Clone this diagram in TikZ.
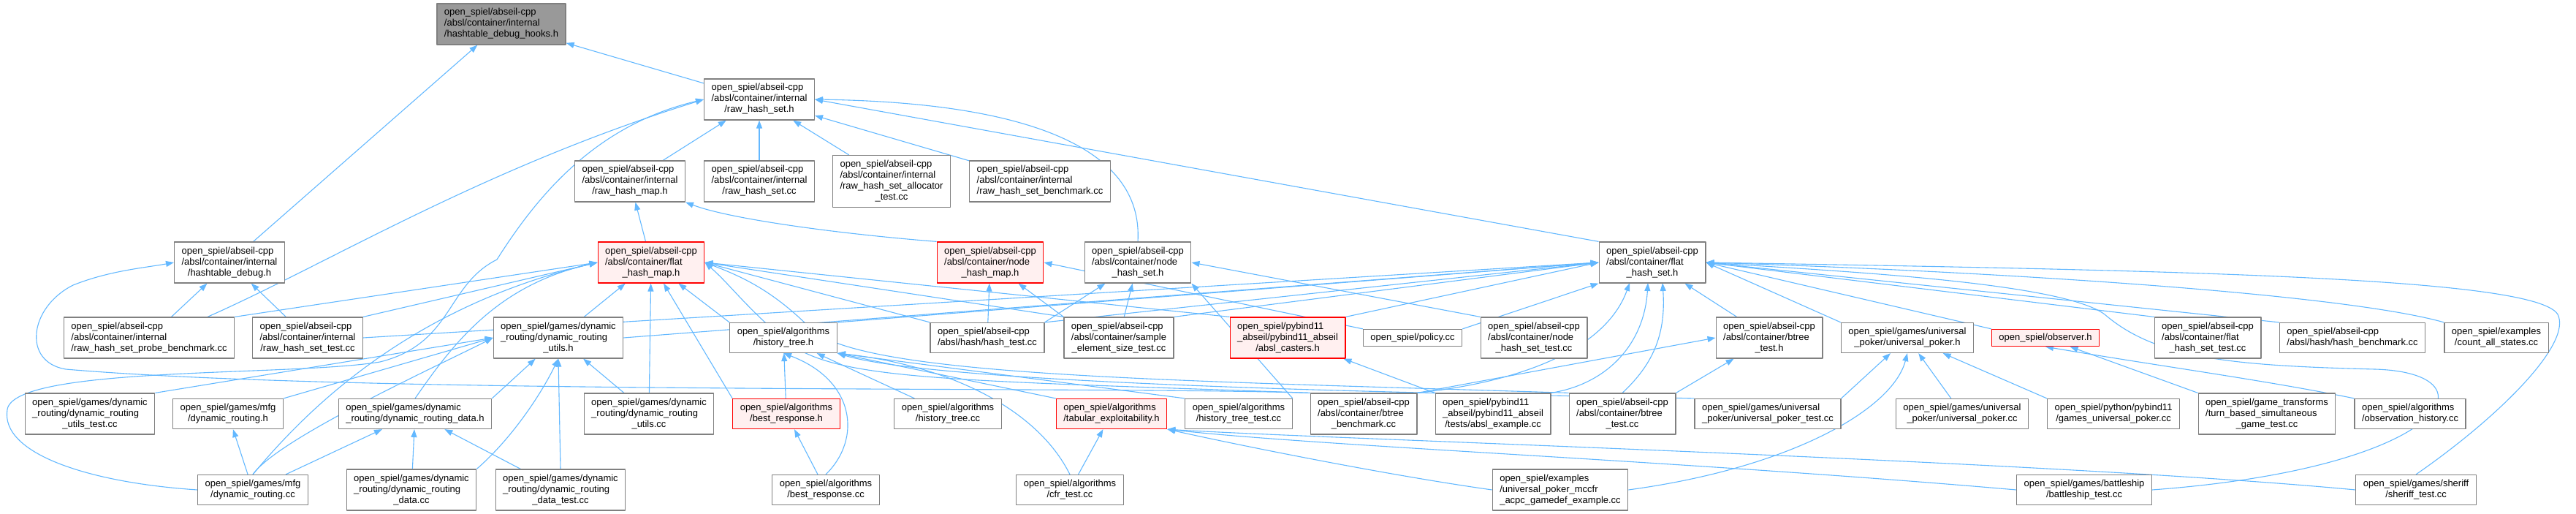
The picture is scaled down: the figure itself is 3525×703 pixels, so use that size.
\documentclass[tikz,border=0pt]{standalone}
\usepackage{fontspec}
\setmainfont{Liberation Sans}
\usetikzlibrary{arrows.meta,backgrounds}

\definecolor{edgeblue}{HTML}{63B8FF}
\definecolor{boxline}{HTML}{808080}
\definecolor{rootfill}{HTML}{999999}
\definecolor{redfill}{HTML}{FFF0F0}

% etichetta doxygen: righe a sinistra, ultima centrata
\newcommand{\flab}[2]{\begin{tabular}{@{}l@{}}#1\\\multicolumn{1}{@{}c@{}}{#2}\end{tabular}}

\begin{document}
\begin{tikzpicture}[x=1pt, y=-1pt, line cap=round, line join=round,
  file/.style={draw=boxline, fill=white, line width=1.2pt, inner xsep=10pt, inner ysep=5.5pt,
    font=\fontsize{13}{15}\selectfont},
  rootfile/.style={file, fill=rootfill},
  redfile/.style={file, draw=red, fill=redfill},
  dep/.style={draw=edgeblue, line width=1.1pt, -{Triangle[length=11pt,width=8pt]}}]

\useasboundingbox (0,0) rectangle (3525,703);
\renewcommand{\arraystretch}{1}

% riga 1
\node[rootfile] (hooks) at (686,33) {\flab{open\_spiel/abseil-cpp\\/absl/container/internal}{/hashtable\_debug\_hooks.h}};

% riga 2
\node[file] (rhsh) at (1039,136) {\flab{open\_spiel/abseil-cpp\\/absl/container/internal}{/raw\_hash\_set.h}};

% riga 3
\node[file] (rhmh) at (862,248) {\flab{open\_spiel/abseil-cpp\\/absl/container/internal}{/raw\_hash\_map.h}};
\node[file] (rhscc) at (1039,248) {\flab{open\_spiel/abseil-cpp\\/absl/container/internal}{/raw\_hash\_set.cc}};
\node[file] (rhsalloc) at (1220,248) {\flab{open\_spiel/abseil-cpp\\/absl/container/internal\\/raw\_hash\_set\_allocator}{\_test.cc}};
\node[file] (rhsbench) at (1423,248) {\flab{open\_spiel/abseil-cpp\\/absl/container/internal}{/raw\_hash\_set\_benchmark.cc}};

% riga 4
\node[file] (hdebug) at (314,359) {\flab{open\_spiel/abseil-cpp\\/absl/container/internal}{/hashtable\_debug.h}};
\node[redfile] (fhmh) at (891,359) {\flab{open\_spiel/abseil-cpp\\/absl/container/flat}{\_hash\_map.h}};
\node[redfile] (nhmh) at (1355,359) {\flab{open\_spiel/abseil-cpp\\/absl/container/node}{\_hash\_map.h}};
\node[file] (nhsh) at (1557,359) {\flab{open\_spiel/abseil-cpp\\/absl/container/node}{\_hash\_set.h}};
\node[file] (fhsh) at (2261,359) {\flab{open\_spiel/abseil-cpp\\/absl/container/flat}{\_hash\_set.h}};

% riga 5
\node[file] (probe) at (204,462) {\flab{open\_spiel/abseil-cpp\\/absl/container/internal}{/raw\_hash\_set\_probe\_benchmark.cc}};
\node[file] (rhstest) at (421,462) {\flab{open\_spiel/abseil-cpp\\/absl/container/internal}{/raw\_hash\_set\_test.cc}};
\node[file] (drutilsh) at (764,462) {\flab{open\_spiel/games/dynamic\\\_routing/dynamic\_routing}{\_utils.h}};
\node[file] (htreeh) at (1072,462) {\flab{open\_spiel/algorithms}{/history\_tree.h}};
\node[file] (hashtest) at (1351,462) {\flab{open\_spiel/abseil-cpp}{/absl/hash/hash\_test.cc}};
\node[file] (samplesize) at (1531,462) {\flab{open\_spiel/abseil-cpp\\/absl/container/sample}{\_element\_size\_test.cc}};
\node[redfile] (casters) at (1762,462) {\flab{open\_spiel/pybind11\\\_abseil/pybind11\_abseil}{/absl\_casters.h}};
\node[file] (policy) at (1933,462) {open\_spiel/policy.cc};
\node[file] (nhstest) at (2099,462) {\flab{open\_spiel/abseil-cpp\\/absl/container/node}{\_hash\_set\_test.cc}};
\node[file] (btreetesth) at (2421,462) {\flab{open\_spiel/abseil-cpp\\/absl/container/btree}{\_test.h}};
\node[file] (uph) at (2610,462) {\flab{open\_spiel/games/universal}{\_poker/universal\_poker.h}};
\node[redfile] (observer) at (2799,462) {open\_spiel/observer.h};
\node[file] (fhstest) at (3021,462) {\flab{open\_spiel/abseil-cpp\\/absl/container/flat}{\_hash\_set\_test.cc}};
\node[file] (hashbench) at (3219,462) {\flab{open\_spiel/abseil-cpp}{/absl/hash/hash\_benchmark.cc}};
\node[file] (countall) at (3416,462) {\flab{open\_spiel/examples}{/count\_all\_states.cc}};

% riga 6
\node[file] (drutilstest) at (123,566) {\flab{open\_spiel/games/dynamic\\\_routing/dynamic\_routing}{\_utils\_test.cc}};
\node[file] (mfgdrh) at (312,566) {\flab{open\_spiel/games/mfg}{/dynamic\_routing.h}};
\node[file] (drdatah) at (568,566) {\flab{open\_spiel/games/dynamic}{\_routing/dynamic\_routing\_data.h}};
\node[file] (drutilscc) at (888,566) {\flab{open\_spiel/games/dynamic\\\_routing/dynamic\_routing}{\_utils.cc}};
\node[redfile] (brh) at (1076,566) {\flab{open\_spiel/algorithms}{/best\_response.h}};
\node[file] (htreecc) at (1297,566) {\flab{open\_spiel/algorithms}{/history\_tree.cc}};
\node[redfile] (tabexp) at (1521,566) {\flab{open\_spiel/algorithms}{/tabular\_exploitability.h}};
\node[file] (htreetest) at (1695,566) {\flab{open\_spiel/algorithms}{/history\_tree\_test.cc}};
\node[file] (btreebench) at (1866,566) {\flab{open\_spiel/abseil-cpp\\/absl/container/btree}{\_benchmark.cc}};
\node[file] (abslex) at (2043,566) {\flab{open\_spiel/pybind11\\\_abseil/pybind11\_abseil}{/tests/absl\_example.cc}};
\node[file] (btreetestcc) at (2220,566) {\flab{open\_spiel/abseil-cpp\\/absl/container/btree}{\_test.cc}};
\node[file] (uptest) at (2419,566) {\flab{open\_spiel/games/universal}{\_poker/universal\_poker\_test.cc}};
\node[file] (upcc) at (2685,566) {\flab{open\_spiel/games/universal}{\_poker/universal\_poker.cc}};
\node[file] (pyup) at (2892,566) {\flab{open\_spiel/python/pybind11}{/games\_universal\_poker.cc}};
\node[file] (tbstest) at (3102,566) {\flab{open\_spiel/game\_transforms\\/turn\_based\_simultaneous}{\_game\_test.cc}};
\node[file] (obshist) at (3298,566) {\flab{open\_spiel/algorithms}{/observation\_history.cc}};

% riga 7
\node[file] (mfgdrcc) at (346,670) {\flab{open\_spiel/games/mfg}{/dynamic\_routing.cc}};
\node[file] (drdatacc) at (563,670) {\flab{open\_spiel/games/dynamic\\\_routing/dynamic\_routing}{\_data.cc}};
\node[file] (drdatatest) at (767,670) {\flab{open\_spiel/games/dynamic\\\_routing/dynamic\_routing}{\_data\_test.cc}};
\node[file] (brcc) at (1130,670) {\flab{open\_spiel/algorithms}{/best\_response.cc}};
\node[file] (cfrtest) at (1464,670) {\flab{open\_spiel/algorithms}{/cfr\_test.cc}};
\node[file] (acpc) at (2135,670) {\flab{open\_spiel/examples\\/universal\_poker\_mccfr}{\_acpc\_gamedef\_example.cc}};
\node[file] (battleship) at (2852,670) {\flab{open\_spiel/games/battleship}{/battleship\_test.cc}};
\node[file] (sheriff) at (3306,670) {\flab{open\_spiel/games/sheriff}{/sheriff\_test.cc}};

\begin{pgfonlayer}{background}
% archi verso hashtable_debug_hooks.h e raw_hash_set.h
\draw[dep] (hdebug) -- (hooks);
\draw[dep] (rhsh) -- (hooks);
\draw[dep] (rhmh) -- (rhsh);
\draw[dep] (rhscc) -- (rhsh);
\draw[dep] (rhsalloc) -- (rhsh);
\draw[dep] (rhsbench) -- (rhsh);
\draw[dep] (fhsh.north west) -- (rhsh.east);
\draw[dep] (nhsh.north) .. controls (1565,200) and (1400,140) .. (rhsh.east);
\draw[dep] ([xshift=80pt]probe.north) .. controls (450,360) and (660,230) .. (rhsh.west);
\draw[dep] (mfgdrcc.west) .. controls (120,660) and (0,620) .. (10,560)
  .. controls (20,500) and (400,515) .. (520,495)
  .. controls (620,470) and (610,390) .. (680,355)
  .. controls (740,260) and (820,170) .. (rhsh.west);
\draw[dep] (fhmh) -- (rhmh);
\draw[dep] (nhmh.north west) .. controls (1150,320) and (1000,300) .. (rhmh.south east);

% archi verso hashtable_debug.h
\draw[dep] (probe) -- (hdebug);
\draw[dep] (rhstest) -- (hdebug);
\draw[dep] (btreebench.north west) .. controls (1500,528) and (500,540) .. (90,505)
  .. controls (30,495) and (40,420) .. (100,390)
  .. controls (150,370) and (200,366) .. (hdebug.west);

% archi verso flat_hash_map.h
\draw[dep] (probe.north east) -- (fhmh.west);
\draw[dep] (rhstest.north east) -- (fhmh.west);
\draw[dep] (drutilsh) -- (fhmh);
\draw[dep] (drutilscc) -- (fhmh);
\draw[dep] (brh.north west) -- (fhmh);
\draw[dep] (htreeh.north west) -- (fhmh);
\draw[dep] (hashtest.north west) -- (fhmh.east);
\draw[dep] (samplesize.north west) -- (fhmh.east);
\draw[dep] (casters.north west) -- (fhmh.east);
\draw[dep] (drdatah.north) .. controls (620,470) and (680,390) .. (fhmh.west);
\draw[dep] (mfgdrcc.north) .. controls (420,560) and (560,420) .. (fhmh.west);
\draw[dep] (btreebench.north west) .. controls (1300,520) and (1150,520) .. (1080,470)
  .. controls (1020,420) and (1000,390) .. (fhmh.east);
\draw[dep] (btreetestcc.north west) .. controls (1600,520) and (1180,515) .. (1110,450)
  .. controls (1060,400) and (1020,380) .. (fhmh.east);

% archi verso dynamic_routing_utils.h
\draw[dep] (drutilstest.north east) -- (drutilsh.west);
\draw[dep] (mfgdrh.north east) -- (drutilsh.west);
\draw[dep] (mfgdrcc.north) .. controls (380,600) and (600,500) .. (drutilsh.west);
\draw[dep] (drdatah.north east) -- (drutilsh);
\draw[dep] (drdatacc.north east) .. controls (700,600) and (740,540) .. (drutilsh.south);
\draw[dep] (drdatatest.north) -- (drutilsh.south);
\draw[dep] (drutilscc) -- (drutilsh);
\draw[dep] (drutilsh.east) -- (fhsh.west);
\draw[dep] (mfgdrcc) -- (mfgdrh);
\draw[dep] (mfgdrcc) -- (drdatah);
\draw[dep] (drdatacc) -- (drdatah);
\draw[dep] (drdatatest) -- (drdatah);

% archi verso node_hash_map.h, node_hash_set.h
\draw[dep] (hashtest) -- (nhmh);
\draw[dep] (samplesize.north west) -- (nhmh);
\draw[dep] (policy.north west) -- (nhmh.east);
\draw[dep] (hashtest.north east) -- (nhsh);
\draw[dep] (samplesize) -- (nhsh);
\draw[dep] (nhstest.north west) -- (nhsh.east);
\draw[dep] (htreetest.north east) -- (nhsh.south east);

% archi verso flat_hash_set.h
\draw[dep] (rhstest.east) -- (fhsh.west);
\draw[dep] (htreeh.north east) -- (fhsh.west);
\draw[dep] (hashtest.north east) -- (fhsh.west);
\draw[dep] (samplesize.north east) -- (fhsh.west);
\draw[dep] (casters.north east) -- (fhsh.west);
\draw[dep] (policy.north east) -- (fhsh.south west);
\draw[dep] (btreetesth) -- (fhsh);
\draw[dep] (uph.north west) -- (fhsh.east);
\draw[dep] (observer.north west) -- (fhsh.east);
\draw[dep] (fhstest.north west) -- (fhsh.east);
\draw[dep] (hashbench.north west) -- (fhsh.east);
\draw[dep] (countall.north west) .. controls (3200,400) and (2700,370) .. (fhsh.east);
\draw[dep] (btreebench.north east) .. controls (2100,520) and (2200,470) .. (2230,387);
\draw[dep] (abslex.north east) .. controls (2200,525) and (2250,470) .. (2255,387);
\draw[dep] (btreetestcc.north) .. controls (2260,500) and (2280,460) .. (2275,387);
\draw[dep] (battleship.east) .. controls (3350,640) and (3420,510) .. (3250,505)
  .. controls (3050,500) and (2950,490) .. (2880,430)
  .. controls (2820,385) and (2500,370) .. (fhsh.east);
\draw[dep] (sheriff.north) .. controls (3420,570) and (3520,470) .. (3500,430)
  .. controls (3470,380) and (3000,370) .. (fhsh.east);

% archi verso history_tree.h e best_response.h
\draw[dep] (brh) -- (htreeh);
\draw[dep] (htreecc) -- (htreeh);
\draw[dep] (htreetest.north west) -- (htreeh.south east);
\draw[dep] (tabexp.north west) -- (htreeh.south east);
\draw[dep] (brcc.north) .. controls (1180,600) and (1170,520) .. (htreeh.south);
\draw[dep] (cfrtest.north) .. controls (1420,560) and (1300,500) .. (htreeh.south east);
\draw[dep] (uptest.north west) .. controls (2100,540) and (1300,530) .. (htreeh.south east);
\draw[dep] (brcc) -- (brh);

% archi verso tabular_exploitability.h e absl_casters.h
\draw[dep] (cfrtest) -- (tabexp);
\draw[dep] (acpc.west) .. controls (1900,650) and (1700,610) .. (tabexp.south east);
\draw[dep] (battleship.west) .. controls (2300,630) and (1800,610) .. (tabexp.south east);
\draw[dep] (sheriff.west) .. controls (2800,630) and (1800,600) .. (tabexp.south east);
\draw[dep] (abslex.north west) -- (casters);
\draw[dep] (btreebench.north east) -- (btreetesth.west);
\draw[dep] (btreetestcc.north east) -- (btreetesth);

% archi verso universal_poker.h e observer.h
\draw[dep] (uptest.north east) -- (uph);
\draw[dep] (upcc) -- (uph);
\draw[dep] (pyup.north west) -- (uph);
\draw[dep] (acpc.east) .. controls (2450,640) and (2590,560) .. (uph.south);
\draw[dep] (tbstest.north west) -- (observer);
\draw[dep] (obshist.north west) .. controls (3100,520) and (2950,500) .. (observer.south);
\end{pgfonlayer}

\end{tikzpicture}
\end{document}
